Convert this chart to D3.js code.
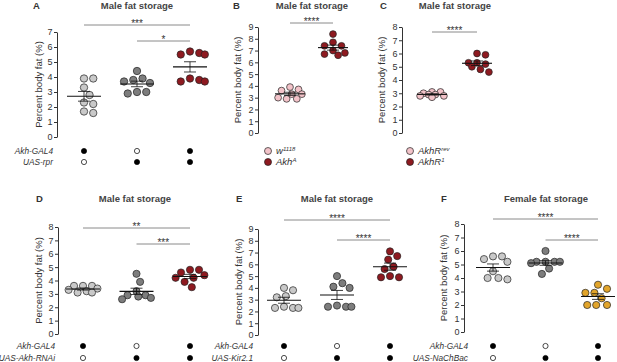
<!DOCTYPE html>
<html>
<head>
<meta charset="utf-8">
<script src="https://cdn.jsdelivr.net/npm/d3@7"></script>
<style>
  body { margin: 0; background: #fff; }
  text { font-family: "Liberation Sans", Arial, sans-serif; }
</style>
</head>
<body>
<script>
// ---- data (percent body fat, one value per fly sample) ----
var aGal4Ctrl = [3.3, 3.9, 3.9, 2.8, 1.6, 2.2, 2.3, 1.7];
var aRprCtrl = [4.4, 3.8, 3.9, 3.6, 3.7, 3.0, 2.9, 3.0];
var aAkhRpr = [5.5, 5.7, 5.5, 5.6, 3.8, 3.9, 3.7, 3.7];

var bW1118 = [2.9, 3.3, 3.7, 3.9, 3.6, 3.0, 2.9, 3.3];
var bAkhA = [8.4, 7.4, 7.4, 7.7, 7.0, 6.6, 6.7, 6.8];

var cAkhRrev = [3.0, 3.1, 2.8, 3.1, 2.7, 2.9, 2.9, 2.8];
var cAkhR1 = [4.8, 5.3, 5.9, 6.0, 5.0, 5.2, 5.3, 4.6];

var dGal4Ctrl = [3.2, 3.6, 3.6, 3.6, 3.4, 3.1, 3.1, 3.3];
var dRnaiCtrl = [4.5, 3.9, 2.7, 2.9, 2.8, 3.2, 2.6, 2.9];
var dAkhRnai = [4.6, 4.8, 4.8, 4.4, 4.2, 4.2, 3.9, 3.5];

var eGal4Ctrl = [3.8, 4.0, 3.3, 3.2, 2.3, 2.3, 2.3, 2.4];
var eKirCtrl = [5.0, 4.4, 4.0, 4.1, 2.4, 2.5, 2.4, 2.4];
var eAkhKir = [6.7, 7.1, 6.4, 5.8, 5.6, 4.9, 5.0, 4.9];

var fGal4Ctrl = [5.2, 5.6, 5.4, 5.6, 4.5, 3.9, 4.0, 4.0];
var fNaChBacCtrl = [6.0, 5.2, 5.2, 5.2, 5.2, 4.7, 4.3, 5.1];
var fAkhNaChBac = [3.5, 3.2, 2.9, 2.9, 2.5, 2.0, 2.0, 2.0];

// genotype rows: 1 = present (filled), 0 = absent (open)
var gal4Row = [1, 0, 1];
var uasRow = [0, 1, 1];

var lightGrey = "#c9c9c9", darkGrey = "#7d7d7d", darkRed = "#8e1a20",
    pink = "#f3c3c9", orange = "#e2a52b";

var svg = d3.select("body").append("svg").attr("width", 617).attr("height", 362);

// deterministic beeswarm: spread points sideways within maxOff,
// allowing some overlap when a row gets crowded
function swarm(vals, y, r, maxOff) {
  var step = r * 0.5;
  var minD = 2 * r + 1.2;
  var placed = [];
  var pts = vals.map(function (v) { return { v: v, cy: y(v) }; })
    .sort(function (a, b) { return b.v - a.v; });
  pts.forEach(function (p) {
    var best = null, bestD = -1;
    for (var k = 0; k < 80; k++) {
      var off = (k % 2 ? 1 : -1) * Math.ceil(k / 2) * step;
      if (Math.abs(off) > maxOff) break;
      var d = d3.min(placed, function (q) { return Math.hypot(q.dx - off, q.cy - p.cy); });
      if (d === undefined || d >= minD) { best = off; bestD = Infinity; break; }
      if (d > bestD) { bestD = d; best = off; }
    }
    p.dx = best;
    placed.push(p);
  });
  return pts;
}

function drawPanel(p) {
  var g = svg.append("g");
  var y = d3.scaleLinear().domain([0, p.ymax]).range([p.y0, p.yTop]);
  var x = d3.scaleLinear().domain([0, p.values.length - 1]).range([p.x0, p.x1]);

  var ax = g.append("g")
    .attr("transform", "translate(" + p.axisX + ",0)")
    .call(d3.axisLeft(y).ticks(p.ymax).tickSize(3).tickSizeOuter(0).tickPadding(1.5));
  ax.selectAll("text").attr("font-size", 9).attr("fill", "#333")
    .attr("font-family", "Liberation Sans, Arial, sans-serif");
  ax.selectAll("line,path").attr("stroke", "#333");

  g.append("text")
    .attr("transform", "translate(" + p.labelX + "," + (p.y0 + p.yTop) / 2 + ") rotate(-90)")
    .attr("text-anchor", "middle")
    .attr("font-size", 9.5)
    .attr("fill", "#333")
    .text("Percent body fat (%)");

  g.append("text").attr("x", p.titleX).attr("y", p.titleY)
    .attr("text-anchor", "middle").attr("font-size", 9.5).attr("font-weight", "bold")
    .attr("fill", "#444").text(p.title);

  g.append("text").attr("x", p.letterX).attr("y", p.titleY)
    .attr("font-size", 9.5).attr("font-weight", "bold").attr("fill", "#333")
    .text(p.letter);

  // points + mean/SEM
  p.values.forEach(function (vals, gi) {
    var pts = swarm(vals, y, p.r, p.maxOff);
    g.append("g").selectAll("circle").data(pts).enter().append("circle")
      .attr("cx", function (d) { return x(gi) + d.dx; })
      .attr("cy", function (d) { return d.cy; })
      .attr("r", p.r)
      .attr("fill", p.colors[gi])
      .attr("stroke", "#222")
      .attr("stroke-width", 0.7);

    var m = d3.mean(vals);
    var sem = d3.deviation(vals) / Math.sqrt(vals.length);
    var cx = x(gi);
    var eb = g.append("g").attr("stroke", "#111").attr("stroke-width", 1.1);
    eb.append("line").attr("x1", cx - p.meanW).attr("x2", cx + p.meanW)
      .attr("y1", y(m)).attr("y2", y(m));
    eb.append("line").attr("x1", cx).attr("x2", cx)
      .attr("y1", y(m - sem)).attr("y2", y(m + sem)).attr("stroke-width", 0.8);
    [m - sem, m + sem].forEach(function (v) {
      eb.append("line").attr("x1", cx - 6).attr("x2", cx + 6)
        .attr("y1", y(v)).attr("y2", y(v)).attr("stroke-width", 0.8);
    });
  });

  // significance bars
  p.sig.forEach(function (s) {
    g.append("line").attr("x1", x(s.from)).attr("x2", x(s.to))
      .attr("y1", s.y).attr("y2", s.y).attr("stroke", "#8a8a8a").attr("stroke-width", 1);
    g.append("text").attr("x", (x(s.from) + x(s.to)) / 2).attr("y", s.y + 1.5)
      .attr("text-anchor", "middle").attr("font-size", 10).attr("fill", "#333")
      .text(s.label);
  });

  // genotype table
  if (p.rows) {
    p.rows.forEach(function (row, ri) {
      var ry = p.rowY[ri];
      g.append("text").attr("x", p.rowLabelX).attr("y", ry + 3)
        .attr("text-anchor", "end").attr("font-size", 8.3).attr("font-style", "italic")
        .attr("fill", "#333").text(row.label);
      g.append("g").selectAll("circle").data(row.marks).enter().append("circle")
        .attr("cx", function (d, i) { return x(i); })
        .attr("cy", ry)
        .attr("r", 2.6)
        .attr("fill", function (d) { return d ? "#000" : "#fff"; })
        .attr("stroke", "#000").attr("stroke-width", 0.7);
    });
  }

  // legend
  if (p.legend) {
    p.legend.forEach(function (l, li) {
      var ly = p.rowY[li];
      g.append("circle").attr("cx", p.legendX).attr("cy", ly).attr("r", 3.5)
        .attr("fill", p.colors[li]).attr("stroke", "#222").attr("stroke-width", 0.7);
      var t = g.append("text").attr("x", p.legendX + 8).attr("y", ly + 3.2)
        .attr("font-size", 9.5).attr("font-style", "italic").attr("fill", "#333");
      t.append("tspan").text(l.base);
      t.append("tspan").attr("dy", -3.5).attr("font-size", 6).text(l.sup);
    });
  }
}

drawPanel({
  letter: "A", letterX: 33, title: "Male fat storage", titleX: 137, titleY: 9,
  axisX: 57, y0: 137, yTop: 32, ymax: 7, x0: 84, x1: 190, labelX: 42,
  r: 3.7, meanW: 17, maxOff: 15,
  values: [aGal4Ctrl, aRprCtrl, aAkhRpr], colors: [lightGrey, darkGrey, darkRed],
  sig: [{ from: 0, to: 2, y: 25, label: "***" }, { from: 1, to: 2, y: 41, label: "*" }],
  rowY: [151, 162], rowLabelX: 53,
  rows: [{ label: "Akh-GAL4", marks: gal4Row }, { label: "UAS-rpr", marks: uasRow }]
});

drawPanel({
  letter: "B", letterX: 233, title: "Male fat storage", titleX: 312, titleY: 9,
  axisX: 258, y0: 133, yTop: 27, ymax: 9, x0: 290, x1: 333, labelX: 241,
  r: 3.4, meanW: 15, maxOff: 12,
  values: [bW1118, bAkhA], colors: [pink, darkRed],
  sig: [{ from: 0, to: 1, y: 23, label: "****" }],
  rowY: [151, 162], legendX: 268,
  legend: [{ base: "w", sup: "1118" }, { base: "Akh", sup: "A" }]
});

drawPanel({
  letter: "C", letterX: 380, title: "Male fat storage", titleX: 455, titleY: 9,
  axisX: 402, y0: 133, yTop: 27, ymax: 8, x0: 432, x1: 477, labelX: 385,
  r: 3.4, meanW: 15, maxOff: 12,
  values: [cAkhRrev, cAkhR1], colors: [pink, darkRed],
  sig: [{ from: 0, to: 1, y: 32, label: "****" }],
  rowY: [151, 162], legendX: 410,
  legend: [{ base: "AkhR", sup: "rev" }, { base: "AkhR", sup: "1" }]
});

drawPanel({
  letter: "D", letterX: 36, title: "Male fat storage", titleX: 135, titleY: 201.5,
  axisX: 58, y0: 334, yTop: 227, ymax: 8, x0: 83, x1: 190, labelX: 42,
  r: 3.6, meanW: 17, maxOff: 15,
  values: [dGal4Ctrl, dRnaiCtrl, dAkhRnai], colors: [lightGrey, darkGrey, darkRed],
  sig: [{ from: 0, to: 2, y: 228, label: "**" }, { from: 1, to: 2, y: 244, label: "***" }],
  rowY: [346, 358], rowLabelX: 55,
  rows: [{ label: "Akh-GAL4", marks: gal4Row }, { label: "UAS-Akh-RNAi", marks: uasRow }]
});

drawPanel({
  letter: "E", letterX: 236, title: "Male fat storage", titleX: 337, titleY: 201.5,
  axisX: 258, y0: 335, yTop: 229, ymax: 9, x0: 284, x1: 390, labelX: 242,
  r: 3.6, meanW: 17, maxOff: 15,
  values: [eGal4Ctrl, eKirCtrl, eAkhKir], colors: [lightGrey, darkGrey, darkRed],
  sig: [{ from: 0, to: 2, y: 220, label: "****" }, { from: 1, to: 2, y: 240, label: "****" }],
  rowY: [346, 358], rowLabelX: 253,
  rows: [{ label: "Akh-GAL4", marks: gal4Row }, { label: "UAS-Kir2.1", marks: uasRow }]
});

drawPanel({
  letter: "F", letterX: 441, title: "Female fat storage", titleX: 546, titleY: 201.5,
  axisX: 464, y0: 332, yTop: 224, ymax: 8, x0: 493, x1: 598, labelX: 447,
  r: 3.6, meanW: 17, maxOff: 15,
  values: [fGal4Ctrl, fNaChBacCtrl, fAkhNaChBac], colors: [lightGrey, darkGrey, orange],
  sig: [{ from: 0, to: 2, y: 219, label: "****" }, { from: 1, to: 2, y: 240, label: "****" }],
  rowY: [346, 358], rowLabelX: 468,
  rows: [{ label: "Akh-GAL4", marks: gal4Row }, { label: "UAS-NaChBac", marks: uasRow }]
});
</script>
</body>
</html>
